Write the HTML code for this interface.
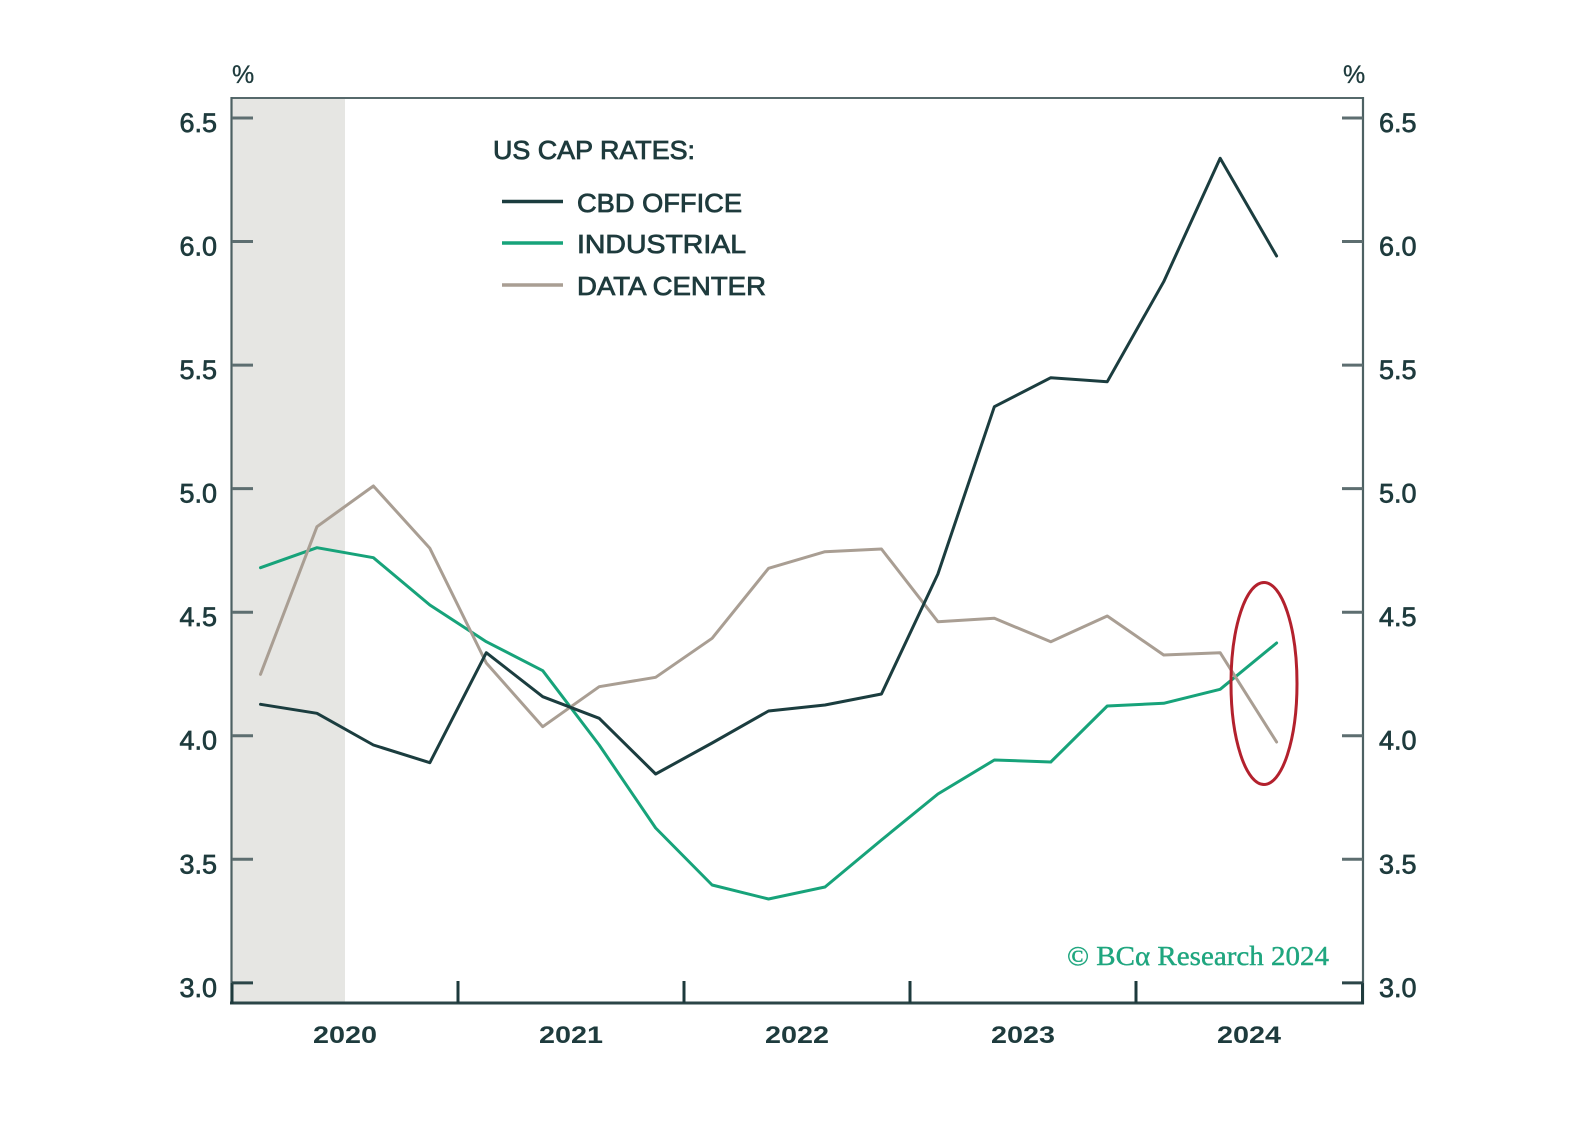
<!DOCTYPE html>
<html>
<head>
<meta charset="utf-8">
<style>
  html, body { margin: 0; padding: 0; background: #ffffff; }
  svg { display: block; }
</style>
</head>
<body>
<svg width="1596" height="1144" viewBox="0 0 1596 1144" xmlns="http://www.w3.org/2000/svg">
  <rect x="0" y="0" width="1596" height="1144" fill="#ffffff"/>

  <!-- shaded recession band -->
  <rect x="232" y="98" width="113" height="905" fill="#e6e6e3"/>

  <!-- frame -->
  <line x1="231" y1="98" x2="1363" y2="98" stroke="#56696b" stroke-width="2"/>
  <line x1="231.5" y1="97" x2="231.5" y2="1004" stroke="#4d6163" stroke-width="2.2"/>
  <line x1="1363" y1="97" x2="1363" y2="1004" stroke="#4d6163" stroke-width="2.2"/>
  <line x1="230" y1="1003" x2="1364" y2="1003" stroke="#2b4547" stroke-width="3"/>
  <line x1="232" y1="983" x2="232" y2="1004" stroke="#1f3b3d" stroke-width="3"/>
  <line x1="1362.5" y1="983" x2="1362.5" y2="1004" stroke="#1f3b3d" stroke-width="3"/>

  <!-- y ticks left & right -->
  <g stroke="#5d6e70" stroke-width="3">
    <line x1="232" y1="118" x2="253" y2="118"/>
    <line x1="232" y1="241.55" x2="253" y2="241.55"/>
    <line x1="232" y1="365.1" x2="253" y2="365.1"/>
    <line x1="232" y1="488.65" x2="253" y2="488.65"/>
    <line x1="232" y1="612.2" x2="253" y2="612.2"/>
    <line x1="232" y1="735.75" x2="253" y2="735.75"/>
    <line x1="232" y1="859.3" x2="253" y2="859.3"/>
    <line x1="232" y1="982.85" x2="253" y2="982.85" stroke="#2b4547"/>
    <line x1="1342" y1="118" x2="1363" y2="118"/>
    <line x1="1342" y1="241.55" x2="1363" y2="241.55"/>
    <line x1="1342" y1="365.1" x2="1363" y2="365.1"/>
    <line x1="1342" y1="488.65" x2="1363" y2="488.65"/>
    <line x1="1342" y1="612.2" x2="1363" y2="612.2"/>
    <line x1="1342" y1="735.75" x2="1363" y2="735.75"/>
    <line x1="1342" y1="859.3" x2="1363" y2="859.3"/>
    <line x1="1342" y1="982.85" x2="1363" y2="982.85" stroke="#2b4547"/>
  </g>

  <!-- x ticks -->
  <g stroke="#1d3a3c" stroke-width="3">
    <line x1="458" y1="981" x2="458" y2="1003"/>
    <line x1="684" y1="981" x2="684" y2="1003"/>
    <line x1="910" y1="981" x2="910" y2="1003"/>
    <line x1="1136" y1="981" x2="1136" y2="1003"/>
  </g>

  <!-- y labels -->
  <g font-family="Liberation Sans, sans-serif" font-size="27" fill="#1e3b3d" stroke="#1e3b3d" stroke-width="0.7">
    <g text-anchor="end">
      <text x="217" y="132">6.5</text>
      <text x="217" y="255.5">6.0</text>
      <text x="217" y="379">5.5</text>
      <text x="217" y="502.6">5.0</text>
      <text x="217" y="626.2">4.5</text>
      <text x="217" y="749.7">4.0</text>
      <text x="217" y="873.3">3.5</text>
      <text x="217" y="996.8">3.0</text>
    </g>
    <g text-anchor="start">
      <text x="1379" y="132">6.5</text>
      <text x="1379" y="255.5">6.0</text>
      <text x="1379" y="379">5.5</text>
      <text x="1379" y="502.6">5.0</text>
      <text x="1379" y="626.2">4.5</text>
      <text x="1379" y="749.7">4.0</text>
      <text x="1379" y="873.3">3.5</text>
      <text x="1379" y="996.8">3.0</text>
    </g>
    <text x="232" y="83" font-size="25" stroke-width="0.3">%</text>
    <text x="1343" y="83" font-size="25" stroke-width="0.3">%</text>
  </g>

  <!-- x labels -->
  <g font-family="Liberation Sans, sans-serif" font-size="24" font-weight="bold" fill="#1e3b3d" text-anchor="middle">
    <text x="345" y="1043" textLength="64" lengthAdjust="spacingAndGlyphs">2020</text>
    <text x="571" y="1043" textLength="64" lengthAdjust="spacingAndGlyphs">2021</text>
    <text x="797" y="1043" textLength="64" lengthAdjust="spacingAndGlyphs">2022</text>
    <text x="1023" y="1043" textLength="64" lengthAdjust="spacingAndGlyphs">2023</text>
    <text x="1249" y="1043" textLength="64" lengthAdjust="spacingAndGlyphs">2024</text>
  </g>

  <!-- series -->
  <g fill="none" stroke-width="3" stroke-linejoin="round" stroke-linecap="round">
    <polyline stroke="#17a37a" points="260.5,567.7 316.95,547.7 373.4,557.7 429.85,605 486.3,641.7 542.75,670.7 599.2,745 655.65,828 712.1,885 768.55,899 825,887 881.45,840 937.9,794 994.35,760 1050.8,762 1107.25,706 1163.7,703.3 1220.15,689.3 1276.6,643"/>
    <polyline stroke="#a99e93" points="260.5,674.3 316.95,526.7 373.4,486 429.85,548.3 486.3,663 542.75,726.7 599.2,686.7 655.65,677.3 712.1,638.3 768.55,568.3 825,551.7 881.45,549 937.9,621.7 994.35,618.3 1050.8,641.7 1107.25,616 1163.7,655 1220.15,652.7 1276.6,742"/>
    <polyline stroke="#1b3d3f" points="260.5,704.3 316.95,713.3 373.4,745 429.85,762.7 486.3,652.7 542.75,696.7 599.2,718.3 655.65,774 712.1,743 768.55,711 825,705 881.45,694 937.9,574 994.35,406.7 1050.8,377.7 1107.25,381.7 1163.7,281.7 1220.15,158.3 1276.6,256"/>
  </g>

  <!-- red ellipse -->
  <ellipse cx="1264" cy="683.5" rx="33" ry="101" fill="none" stroke="#b3212d" stroke-width="3"/>

  <!-- legend -->
  <g font-family="Liberation Sans, sans-serif" font-size="26" fill="#1e3b3d" stroke="#1e3b3d" stroke-width="0.8">
    <text x="493" y="159" textLength="202" lengthAdjust="spacingAndGlyphs">US CAP RATES:</text>
    <text x="577" y="212" textLength="165" lengthAdjust="spacingAndGlyphs">CBD OFFICE</text>
    <text x="577" y="253" textLength="169" lengthAdjust="spacingAndGlyphs">INDUSTRIAL</text>
    <text x="577" y="295" textLength="189" lengthAdjust="spacingAndGlyphs">DATA CENTER</text>
  </g>
  <g stroke-width="3.5">
    <line x1="502" y1="201.5" x2="563" y2="201.5" stroke="#1b3d3f"/>
    <line x1="502" y1="243" x2="563" y2="243" stroke="#17a37a"/>
    <line x1="502" y1="285" x2="563" y2="285" stroke="#a99e93"/>
  </g>

  <!-- copyright -->
  <text x="1067" y="965" font-family="Liberation Serif, serif" font-size="27" fill="#1fa67f" stroke="#1fa67f" stroke-width="0.4" textLength="262" lengthAdjust="spacingAndGlyphs">© BCα Research 2024</text>
</svg>
</body>
</html>
